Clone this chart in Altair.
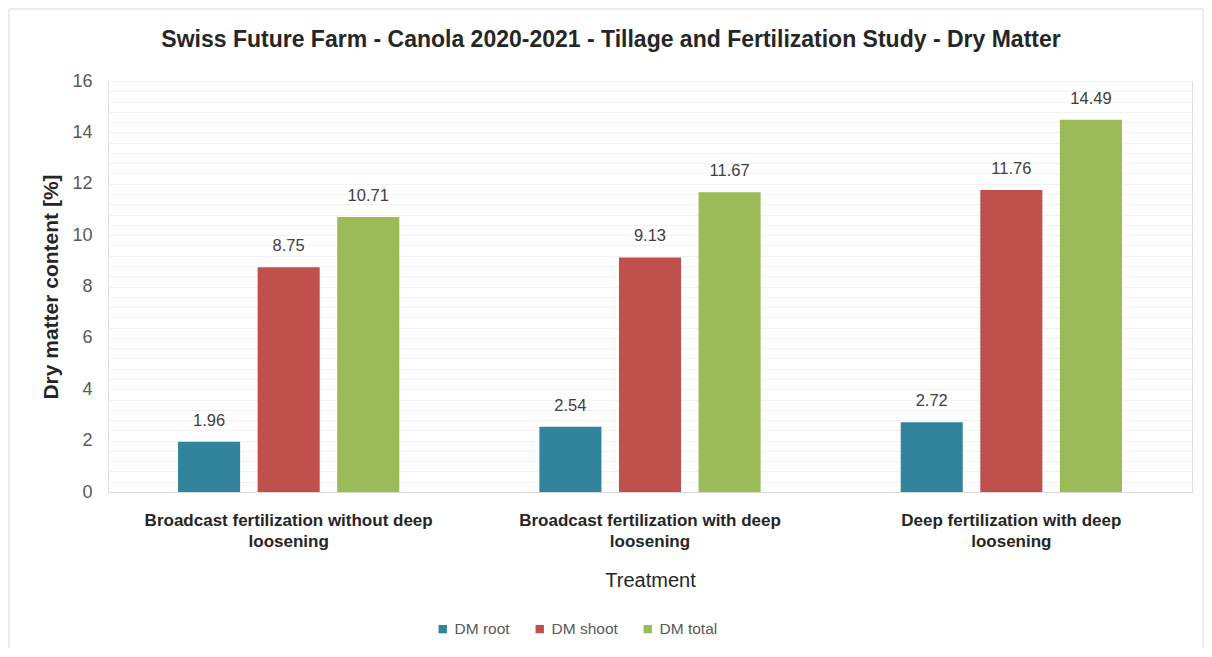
import altair as alt
import pandas as pd
import numpy as np

treatments = [
    "Broadcast fertilization without deep loosening",
    "Broadcast fertilization with deep loosening",
    "Deep fertilization with deep loosening",
]
series = ["DM root", "DM shoot", "DM total"]
dm_root = [1.96, 2.54, 2.72]
dm_shoot = [8.75, 9.13, 11.76]
dm_total = [10.71, 11.67, 14.49]
colors = ["#31849B", "#C0504D", "#9BBB59"]

rows = []
for i, t in enumerate(treatments):
    for s, vals in zip(series, [dm_root, dm_shoot, dm_total]):
        rows.append({"Treatment": t, "Series": s, "Value": vals[i]})
df = pd.DataFrame(rows)

W, H = 1084, 411
minor_vals = [round(v, 2) for v in np.arange(0, 16.01, 0.4)]

x_enc = alt.X(
    "Treatment:N",
    sort=treatments,
    scale=alt.Scale(paddingInner=0, paddingOuter=0),
    axis=alt.Axis(
        title="Treatment",
        labelAngle=0,
        labelFont="Liberation Sans",
        labelFontSize=17,
        labelFontWeight="bold",
        labelColor="#262626",
        labelLimit=500,
        labelLineHeight=21,
        labelPadding=20,
        labelExpr="[slice(datum.label, 0, lastindexof(datum.label, ' ')), slice(datum.label, lastindexof(datum.label, ' ') + 1)]",
        ticks=False,
        domainColor="#d9d9d9",
        titleFont="Liberation Sans",
        titleFontSize=20,
        titleFontWeight="normal",
        titleColor="#262626",
        titlePadding=21,
    ),
)
xoff = alt.XOffset(
    "Series:N", sort=series, scale=alt.Scale(paddingInner=0.22, paddingOuter=0.88)
)
y_scale = alt.Scale(domain=[0, 16], nice=False)

bars = alt.Chart(df).mark_bar().encode(
    x=x_enc,
    xOffset=xoff,
    y=alt.Y(
        "Value:Q",
        scale=y_scale,
        axis=alt.Axis(
            title="Dry matter content [%]",
            values=list(range(0, 17, 2)),
            grid=True,
            gridColor="#d9d9d9",
            domain=False,
            ticks=False,
            labelFont="Liberation Sans",
            labelFontSize=18,
            labelColor="#595959",
            labelPadding=16,
            titleFont="Liberation Sans",
            titleFontSize=21,
            titleFontWeight="bold",
            titleColor="#262626",
            titlePadding=10,
        ),
    ),
    color=alt.Color(
        "Series:N",
        sort=series,
        scale=alt.Scale(domain=series, range=colors),
        legend=alt.Legend(
            title=None,
            orient="none",
            direction="horizontal",
            legendX=327,
            legendY=129 + H,
            symbolType="square",
            symbolSize=70,
            symbolStrokeWidth=0,
            labelFont="Liberation Sans",
            labelFontSize=15.5,
            labelColor="#595959",
            columnPadding=22,
            symbolOffset=0,
            labelOffset=4,
        ),
    ),
)

labels = alt.Chart(df).mark_text(
    baseline="middle", dy=-21, font="Liberation Sans", fontSize=16.5, color="#404040"
).encode(
    x=alt.X("Treatment:N", sort=treatments),
    xOffset=alt.XOffset("Series:N", sort=series),
    y=alt.Y(
        "Value:Q",
        axis=alt.Axis(
            orient="right",
            values=minor_vals,
            grid=True,
            gridColor="#f2f2f2",
            labels=False,
            ticks=False,
            domain=False,
            title=None,
        ),
    ),
    text=alt.Text("Value:Q", format=".2f"),
)

border = alt.Chart(alt.Data(values=[{"a": 1}])).mark_rect(
    fill="transparent", stroke="#d9d9d9", strokeWidth=1
).encode(
    x=alt.value(-99), x2=alt.value(1095), y=alt.value(-72), y2=alt.value(568)
)

chart = (
    alt.layer(border, bars, labels)
    .resolve_axis(y="independent")
    .properties(
        width=W,
        height=H,
        autosize=alt.AutoSizeParams(type="none"),
        padding={"left": 100, "top": 73, "right": 12, "bottom": 156},
        title=alt.TitleParams(
            "Swiss Future Farm - Canola 2020-2021 - Tillage and Fertilization  Study - Dry Matter",
            font="Liberation Sans",
            fontSize=23,
            fontWeight="bold",
            color="#262626",
            anchor="middle",
            frame="group",
            dx=-39,
            offset=0,
            dy=43,
        ),
    )
    .configure_view(stroke=None)
    .configure(background="white")
)

chart.save("out.html", embed_options={"renderer": "svg", "actions": False})
